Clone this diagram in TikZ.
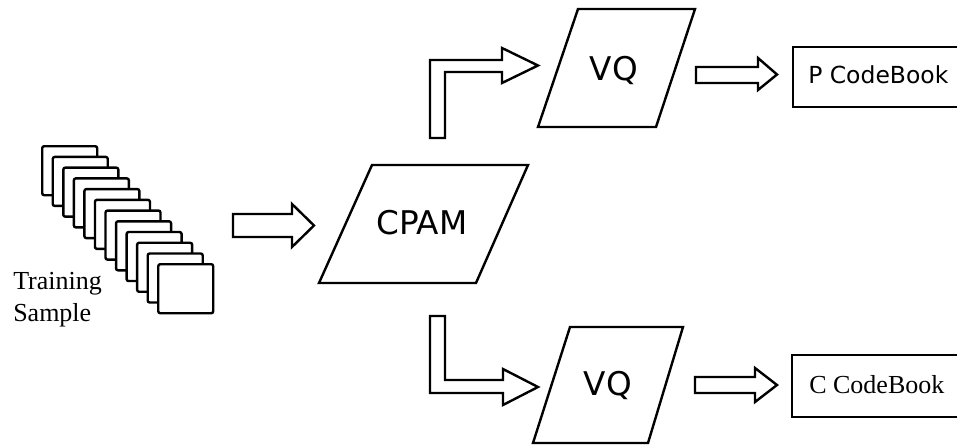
\documentclass[tikz,border=0pt]{standalone}
\usepackage{fontspec}
\setmainfont{Liberation Serif}
\newfontfamily\labelsans{DejaVu Sans}
\begin{document}
\begin{tikzpicture}[x=0.75pt,y=-0.75pt,
  outline/.style={draw=black,line width=1.8pt,line join=miter,fill=white},
  framebox/.style={draw=black,line width=1.8pt,fill=white,rounded corners=1.5pt,
    rectangle,inner sep=0pt,minimum width=41.25pt,minimum height=36.75pt,anchor=north west},
  blocktext/.style={inner sep=0pt,anchor=base},
  serifsm/.style={font=\fontsize{19.5}{24}\selectfont},
  sansbig/.style={font=\labelsans\fontsize{24.5}{28}\selectfont},
  sanssm/.style={font=\labelsans\fontsize{17.6}{21}\selectfont}]
\useasboundingbox (0,0) rectangle (957,446);
\fill[white] (0,0) rectangle (957,446);

% stack of sample frames, back to front
\foreach \i in {0,...,11}
  \node[framebox] (f\i) at ({41+\i*10.55},{145+\i*10.73}) {};
\node[serifsm,blocktext,anchor=base west] (train) at (13,289) {Training};
\node[serifsm,blocktext,anchor=base west] (sample) at (13,321) {Sample};

% arrow into CPAM
\draw[outline] (233,214) -- (292,214) -- (292,204) -- (314,225.5) -- (292,247)
  -- (292,237) -- (233,237) -- cycle;

% CPAM parallelogram
\coordinate (cpamSW) at (319,283);
\coordinate (cpamNW) at (372,165);
\coordinate (cpamNE) at (528,165);
\coordinate (cpamSE) at (476,283);
\draw[outline] (cpamSW) -- (cpamNW) -- (cpamNE) -- (cpamSE) -- cycle;
\node[sansbig,blocktext] (cpam) at (422,234) {CPAM};

% upper branch
\draw[outline] (430,138) -- (430,60) -- (502,60) -- (502,48) -- (538,65.5)
  -- (502,83) -- (502,72) -- (445,72) -- (445,138) -- cycle;
\coordinate (vq1SW) at (538,127);
\coordinate (vq1NW) at (578,9);
\coordinate (vq1NE) at (695,9);
\coordinate (vq1SE) at (656,127);
\draw[outline] (vq1SW) -- (vq1NW) -- (vq1NE) -- (vq1SE) -- cycle;
\node[sansbig,blocktext] (vq1) at (614,80) {VQ};

\draw[outline] (696,67) -- (758,67) -- (758,58) -- (777,74.5) -- (758,90)
  -- (758,83) -- (696,83) -- cycle;
\draw[outline] (793,107) -- (793,47) -- (970,47) -- (970,107) -- cycle;
\node[sanssm,blocktext,anchor=base west] (pbook) at (808,83) {P CodeBook};

% lower branch
\draw[outline] (430,316) -- (445,316) -- (445,380) -- (503,380) -- (503,369)
  -- (538,387) -- (503,405) -- (503,393) -- (430,393) -- cycle;
\coordinate (vq2SW) at (533,443);
\coordinate (vq2NW) at (570,327);
\coordinate (vq2NE) at (683,327);
\coordinate (vq2SE) at (648,443);
\draw[outline] (vq2SW) -- (vq2NW) -- (vq2NE) -- (vq2SE) -- cycle;
\node[sansbig,blocktext] (vq2) at (608,395) {VQ};

\draw[outline] (695,377) -- (755,377) -- (755,368) -- (777,385) -- (755,402)
  -- (755,393) -- (695,393) -- cycle;
\draw[outline] (792,417) -- (792,355) -- (970,355) -- (970,417) -- cycle;
\node[serifsm,blocktext,anchor=base west] (cbook) at (809,393) {C CodeBook};
\end{tikzpicture}
\end{document}
